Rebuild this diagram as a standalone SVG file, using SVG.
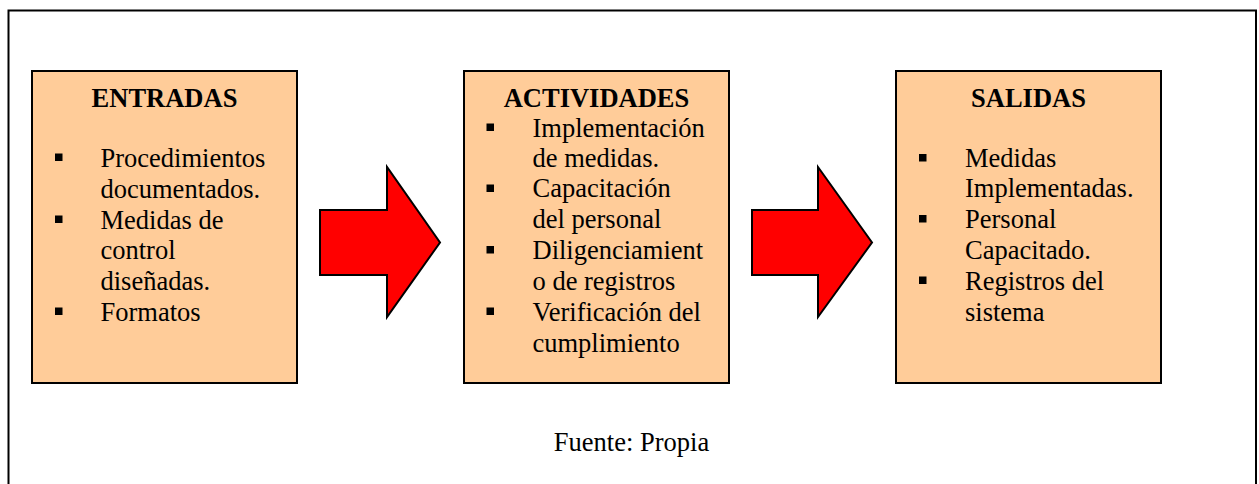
<svg xmlns="http://www.w3.org/2000/svg" width="1259" height="484" viewBox="0 0 1259 484">
<style>
.box{fill:#FFCC99;stroke:#000;stroke-width:2}
.arrow{fill:#FF0000;stroke:#000;stroke-width:2;stroke-linejoin:miter}
.t{font-family:"Liberation Serif","Times New Roman",serif;font-size:26.5px;fill:#000}
.h{font-family:"Liberation Serif","Times New Roman",serif;font-size:26.5px;font-weight:bold;fill:#000;text-anchor:middle}
.b{fill:#000}
</style>
<rect width="1259" height="484" fill="#fff"/>
<path d="M8.5,490 V10.5 H1256 V490" fill="none" stroke="#000" stroke-width="2"/>
<g id="entradas">
<rect class="box" x="32" y="71" width="265" height="312"/>
<text class="h" x="164.5" y="107">ENTRADAS</text>
<rect class="b" x="55" y="153.5" width="7.5" height="7.5"/>
<rect class="b" x="55" y="215.5" width="7.5" height="7.5"/>
<rect class="b" x="55" y="307.5" width="7.5" height="7.5"/>
<text class="t" x="100.5" y="166.7">Procedimientos</text>
<text class="t" x="100.5" y="197.5">documentados.</text>
<text class="t" x="100.5" y="228.5">Medidas de</text>
<text class="t" x="100.5" y="259">control</text>
<text class="t" x="100.5" y="289.5">diseñadas.</text>
<text class="t" x="100.5" y="320.5">Formatos</text>
</g>
<g id="actividades">
<rect class="box" x="464" y="71" width="265" height="312"/>
<text class="h" x="596.5" y="106.7">ACTIVIDADES</text>
<rect class="b" x="486.5" y="123.5" width="7.5" height="7.5"/>
<rect class="b" x="486.5" y="184.5" width="7.5" height="7.5"/>
<rect class="b" x="486.5" y="246" width="7.5" height="7.5"/>
<rect class="b" x="486.5" y="307.5" width="7.5" height="7.5"/>
<text class="t" x="532.5" y="137.3">Implementación</text>
<text class="t" x="532.5" y="166.7">de medidas.</text>
<text class="t" x="532.5" y="197.3">Capacitación</text>
<text class="t" x="532.5" y="228">del personal</text>
<text class="t" x="532.5" y="259">Diligenciamient</text>
<text class="t" x="532.5" y="290">o de registros</text>
<text class="t" x="532.5" y="320.7">Verificación del</text>
<text class="t" x="532.5" y="351.7">cumplimiento</text>
</g>
<g id="salidas">
<rect class="box" x="896" y="71" width="265" height="312"/>
<text class="h" x="1028.5" y="106.7">SALIDAS</text>
<rect class="b" x="919" y="154" width="7.5" height="7.5"/>
<rect class="b" x="919" y="215" width="7.5" height="7.5"/>
<rect class="b" x="919" y="276.5" width="7.5" height="7.5"/>
<text class="t" x="965" y="167.3">Medidas</text>
<text class="t" x="965" y="197.3">Implementadas.</text>
<text class="t" x="965" y="228">Personal</text>
<text class="t" x="965" y="259">Capacitado.</text>
<text class="t" x="965" y="290">Registros del</text>
<text class="t" x="965" y="320.7">sistema</text>
</g>
<g id="connectors">
<polygon class="arrow" points="320,210 387,210 387,167 440,242.5 387,317 387,275 320,275"/>
<polygon class="arrow" points="752,210 818,210 818,167 872,242.5 818,317 818,275 752,275"/>
</g>
<text class="t" x="631.5" y="450.7" text-anchor="middle">Fuente: Propia</text>
</svg>
